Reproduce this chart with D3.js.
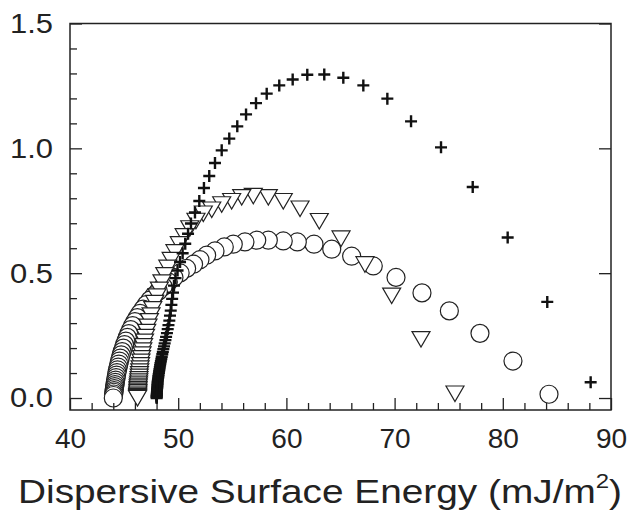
<!DOCTYPE html>
<html>
<head>
	<meta charset="utf-8">
	<title></title>
	<script src="https://d3js.org/d3.v7.min.js" charset="utf-8"></script>
	<style>
		body{margin:0;background:#fff;}
		text{font-family:"Liberation Sans",Arial,sans-serif;fill:#222;}
	</style>
</head>
<body>
	<script>
	var w=630;
	var h=515;

	// circles (open, white filled)
	var circX=[44.00,44.02,44.04,44.06,44.08,44.10,44.13,44.16,44.19,44.22,44.26,44.30,44.34,44.39,44.45,44.51,44.57,44.65,44.73,44.82,44.93,45.04,45.16,45.30,45.44,45.61,45.79,46.00,46.22,46.47,46.75,47.05,47.39,47.76,48.17,48.61,49.09,49.61,50.18,50.78,51.42,52.01,52.63,53.40,54.26,55.09,56.17,57.26,58.33,59.71,61.01,62.55,64.19,66.03,68.03,70.13,72.53,75.06,77.89,80.94,84.27];
	var circY=[0.000,0.010,0.016,0.023,0.030,0.038,0.046,0.054,0.063,0.072,0.082,0.092,0.102,0.113,0.124,0.136,0.148,0.160,0.173,0.186,0.200,0.214,0.228,0.243,0.258,0.274,0.290,0.306,0.322,0.339,0.356,0.374,0.392,0.410,0.428,0.446,0.465,0.483,0.501,0.519,0.536,0.554,0.572,0.589,0.605,0.616,0.625,0.632,0.632,0.629,0.625,0.616,0.596,0.568,0.529,0.483,0.421,0.349,0.259,0.148,0.015];

	// down triangles
	var triX=[46.24,46.25,46.25,46.26,46.27,46.28,46.28,46.29,46.30,46.32,46.34,46.36,46.38,46.40,46.42,46.45,46.48,46.52,46.56,46.61,46.66,46.73,46.80,46.89,46.98,47.09,47.21,47.34,47.49,47.65,47.83,48.04,48.26,48.50,48.76,49.04,49.35,49.70,50.10,50.55,51.07,51.64,52.32,53.10,54.02,54.94,55.87,56.94,58.33,59.71,61.26,63.04,65.05,67.26,69.73,72.44,75.58];
	var triY=[0.000,0.004,0.008,0.013,0.018,0.024,0.030,0.036,0.043,0.050,0.058,0.067,0.076,0.086,0.096,0.107,0.119,0.132,0.146,0.160,0.175,0.191,0.208,0.226,0.245,0.265,0.286,0.308,0.331,0.356,0.381,0.407,0.434,0.463,0.492,0.522,0.553,0.584,0.616,0.648,0.680,0.710,0.739,0.755,0.776,0.789,0.805,0.810,0.805,0.789,0.759,0.709,0.639,0.536,0.410,0.236,0.018];

	// plus signs
	var plusX=[48.01,48.01,48.01,48.02,48.02,48.03,48.03,48.04,48.04,48.05,48.06,48.07,48.08,48.09,48.10,48.11,48.13,48.15,48.17,48.19,48.22,48.24,48.27,48.30,48.33,48.36,48.40,48.44,48.48,48.53,48.58,48.63,48.69,48.75,48.82,48.88,48.96,49.03,49.10,49.18,49.24,49.31,49.37,49.44,49.52,49.61,49.75,49.94,50.17,50.41,50.65,50.91,51.18,51.55,51.95,52.38,52.87,53.40,54.02,54.72,55.46,56.27,57.19,58.18,59.34,60.58,61.93,63.50,65.26,67.11,69.33,71.52,74.29,77.22,80.45,84.11,88.12];
	var plusY=[0.000,0.004,0.007,0.011,0.014,0.018,0.022,0.027,0.031,0.036,0.041,0.046,0.051,0.057,0.062,0.068,0.074,0.081,0.087,0.094,0.101,0.108,0.115,0.123,0.131,0.139,0.147,0.156,0.165,0.175,0.185,0.196,0.207,0.219,0.232,0.245,0.260,0.276,0.292,0.310,0.330,0.350,0.373,0.397,0.422,0.450,0.480,0.511,0.545,0.580,0.618,0.658,0.699,0.743,0.789,0.841,0.889,0.941,0.992,1.039,1.088,1.136,1.181,1.219,1.252,1.276,1.295,1.296,1.283,1.252,1.199,1.108,1.004,0.845,0.643,0.385,0.063];

	var xMajor=[40,50,60,70,80,90];
	var xMinor=d3.range(42,90,2);
	var yMajor=[0.0,0.5,1.0,1.5];
	var yMinor=[0.1,0.2,0.3,0.4,0.6,0.7,0.8,0.9,1.1,1.2,1.3,1.4];

	var svg=d3.select("body").append("svg").attr("width",w).attr("height",h);

	var x=d3.scaleLinear().domain([40,90]).range([70,611]);
	var y=d3.scaleLinear().domain([-0.048,1.5]).range([410,23.5]);

	function pts(xs,ys){
		// drawn from the far end back to the start, so the first point lands on top
		return xs.map(function(d,i){return {x:d,y:ys[i]};}).reverse();
	}

	var plot=svg.append("g");

	plot.selectAll("circle.c")
		.data(pts(circX,circY))
		.enter().append("circle")
		.attr("class","c")
		.attr("cx",function(d){return x(d.x);})
		.attr("cy",function(d){return y(d.y);})
		.attr("r",9)
		.attr("fill","#fff")
		.attr("stroke","#222")
		.attr("stroke-width",1.2);

	plot.selectAll("path.t")
		.data(pts(triX,triY))
		.enter().append("path")
		.attr("class","t")
		.attr("d","M-9,-7.5L9,-7.5L0,8Z")
		.attr("transform",function(d){return "translate("+x(d.x)+","+y(d.y)+")";})
		.attr("fill","#fff")
		.attr("stroke","#222")
		.attr("stroke-width",1.2);

	plot.selectAll("path.p")
		.data(pts(plusX,plusY))
		.enter().append("path")
		.attr("class","p")
		.attr("d","M-6,0H6M0,-6V6")
		.attr("transform",function(d){return "translate("+x(d.x)+","+y(d.y)+")";})
		.attr("stroke","#111")
		.attr("stroke-width",2.4);

	// frame
	svg.append("rect")
		.attr("x",x(40)).attr("y",y(1.5))
		.attr("width",x(90)-x(40)).attr("height",y(-0.048)-y(1.5))
		.attr("fill","none").attr("stroke","#222").attr("stroke-width",1.5);

	// axes, ticks pointing in
	var axY=svg.append("g").attr("transform","translate("+x(40)+",0)")
		.call(d3.axisLeft(y).tickValues(yMajor).tickFormat(d3.format(".1f")).tickSize(-12).tickPadding(17));
	svg.append("g").attr("transform","translate("+x(40)+",0)")
		.call(d3.axisLeft(y).tickValues(yMinor).tickFormat("").tickSize(-7));
	svg.append("g").attr("transform","translate("+x(90)+",0)")
		.call(d3.axisRight(y).tickValues(yMajor).tickFormat("").tickSize(-12));
	svg.append("g").attr("transform","translate(0,"+y(-0.048)+")")
		.call(d3.axisBottom(x).tickValues(xMajor).tickFormat(d3.format("d")).tickSize(-12).tickPadding(18));
	svg.append("g").attr("transform","translate(0,"+y(-0.048)+")")
		.call(d3.axisBottom(x).tickValues(xMinor.filter(function(d){return d%10;})).tickFormat("").tickSize(-7));

	svg.selectAll(".domain").remove();
	svg.selectAll(".tick line").attr("stroke","#222").attr("stroke-width",1.3);
	svg.selectAll(".tick text").attr("font-size",28).attr("font-family","Liberation Sans, Arial, sans-serif").attr("fill","#222");
	// y labels are a little wider in the original
	axY.selectAll(".tick text").attr("textLength",43).attr("lengthAdjust","spacingAndGlyphs");

	var title=svg.append("text")
		.attr("x",320).attr("y",503)
		.attr("text-anchor","middle")
		.attr("font-size",34)
		.attr("textLength",604)
		.attr("lengthAdjust","spacingAndGlyphs");
	title.append("tspan").text("Dispersive Surface Energy (mJ/m");
	title.append("tspan").attr("font-size",21).attr("dy",-15).text("2");
	title.append("tspan").attr("dy",15).text(")");
	</script>
</body>
</html>
